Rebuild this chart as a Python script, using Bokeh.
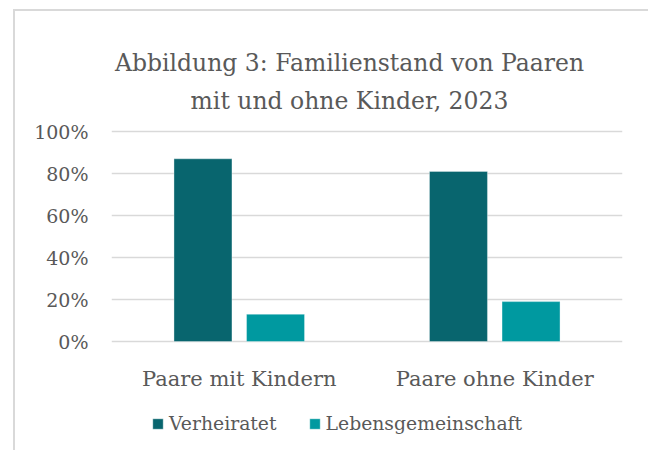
from bokeh.plotting import figure
from bokeh.models import (FactorRange, Range1d, Label, Legend, LegendItem,
                          FixedTicker, ColumnDataSource)
from bokeh.core.properties import value
from bokeh.transform import dodge
from bokeh.embed import file_html
from bokeh.resources import INLINE

# ---- data ----
categories = ["Paare mit Kindern", "Paare ohne Kinder"]
series_names = ["Verheiratet", "Lebensgemeinschaft"]
verheiratet = [87, 81]
lebensgemeinschaft = [13, 19]
y_ticks = [0, 20, 40, 60, 80, 100]
y_tick_labels = ["0%", "20%", "40%", "60%", "80%", "100%"]
title_lines = ["Abbildung 3: Familienstand von Paaren", "mit und ohne Kinder, 2023"]

FONT = "DejaVu Serif"
TEXT = "#595959"
GRID = "#d9d9d9"
COLORS = ["#08656e", "#0099a0"]

src = ColumnDataSource(dict(cat=categories, v=verheiratet, l=lebensgemeinschaft))

# The frame covers the full canvas height; 0% sits at page y 341, 100% at 131.
PX = 2.1                      # pixels per percentage point
CANVAS_TOP = 11
ZERO_Y = 341 - CANVAS_TOP     # 0-line distance from canvas top
CANVAS_H = 441
y_top = ZERO_Y / PX
y_bottom = -(CANVAS_H - ZERO_Y) / PX

def y_at(page_y):
    return (341 - page_y) / PX

p = figure(x_range=FactorRange(factors=categories, range_padding=0),
           y_range=Range1d(y_bottom, y_top),
           x_axis_location=None,
           width=635, height=CANVAS_H,
           output_backend="svg", toolbar_location=None,
           min_border_left=96, min_border_right=28,
           min_border_top=0, min_border_bottom=0)

p.styles = {"margin-left": "13px", "margin-top": "9px",
            "border-left": "2px solid #d9d9d9", "border-top": "2px solid #d9d9d9"}

p.outline_line_color = None
p.background_fill_color = "white"
p.border_fill_color = "white"

p.xgrid.visible = False
p.ygrid.ticker = FixedTicker(ticks=y_ticks)
p.ygrid.grid_line_color = GRID
p.ygrid.grid_line_width = 1.5

p.yaxis.ticker = FixedTicker(ticks=y_ticks)
p.yaxis.major_label_overrides = {t: lab for t, lab in zip(y_ticks, y_tick_labels)}
p.yaxis.axis_line_color = None
p.yaxis.major_tick_line_color = None
p.yaxis.minor_tick_line_color = None
p.yaxis.major_tick_out = 0
p.yaxis.major_tick_in = 0
p.yaxis.major_label_standoff = 23
p.yaxis.major_label_text_font = FONT
p.yaxis.major_label_text_font_size = "19px"
p.yaxis.major_label_text_color = TEXT

r1 = p.vbar(x=dodge("cat", -0.142, range=p.x_range), top="v", width=0.227,
            source=src, fill_color=COLORS[0], line_color="white", line_alpha=0.35)
r2 = p.vbar(x=dodge("cat", 0.142, range=p.x_range), top="l", width=0.227,
            source=src, fill_color=COLORS[1], line_color="white", line_alpha=0.35)

# category labels under the bars
p.text(x="cat", y=y_at(378), text="cat", source=src,
       text_align="center", text_baseline="alphabetic",
       text_font=value(FONT), text_font_size="21px", text_color=TEXT)

legend = Legend(items=[LegendItem(label=series_names[0], renderers=[r1]),
                       LegendItem(label=series_names[1], renderers=[r2])],
                orientation="horizontal", location=(40, 18),
                glyph_width=13, glyph_height=13, label_standoff=5, spacing=31,
                padding=0, margin=0, border_line_color=None,
                background_fill_alpha=0,
                label_text_font=FONT, label_text_font_size="18.8px",
                label_text_color=TEXT)
p.add_layout(legend)

for txt, py in zip(title_lines, [62, 100]):
    p.add_layout(Label(x=238, y=y_at(py), x_units="screen", y_units="data", text=txt,
                       text_align="center", text_baseline="alphabetic",
                       text_font=FONT, text_font_size="23.5px", text_color=TEXT))

open("out.html", "w").write(file_html(p, INLINE, title="Familienstand"))
